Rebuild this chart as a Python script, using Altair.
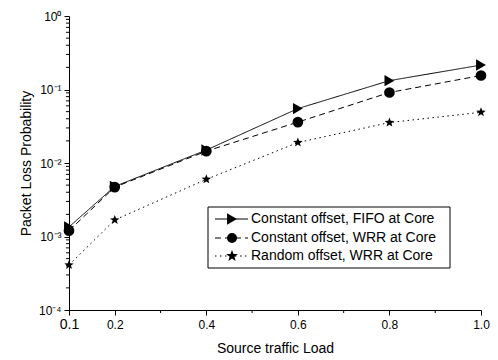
import math
import altair as alt
import pandas as pd

# ---- data ----
loads = [0.1, 0.2, 0.4, 0.6, 0.8, 1.0]
series_names = [
    "Constant offset, FIFO at Core",
    "Constant offset, WRR at Core",
    "Random offset, WRR at Core",
]
fifo = [1.35e-3, 4.8e-3, 1.5e-2, 5.5e-2, 0.132, 0.215]
wrr = [1.2e-3, 4.7e-3, 1.45e-2, 3.6e-2, 0.091, 0.155]
rnd = [4.1e-4, 1.68e-3, 6.0e-3, 1.9e-2, 3.55e-2, 0.049]

x_labelled = [0.1, 0.2, 0.4, 0.6, 0.8, 1.0]
x_minor = [0.3, 0.5, 0.7, 0.9]
y_label_values = [1, 0.1, 0.01, 0.001, 0.0001]
y_label_texts = ["10\u2070", "10\u207b\u00b9", "10\u207b\u00b2", "10\u207b\u00b3", "10\u207b\u2074"]
y_minor = [float(f"{k}e{e}") for e in range(-4, 0) for k in range(2, 10)]

# ---- styles ----
FONT = "Liberation Sans"
W, H = 412, 294
pts = []
for i in range(10):
    r = 1.0 if i % 2 == 0 else 0.42
    a = -math.pi / 2 + i * math.pi / 5
    pts.append(f"{r*math.cos(a):.3f},{r*math.sin(a):.3f}")
star_path = "M" + "L".join(pts) + "Z"
shapes = ["triangle-right", "circle", star_path]
sizes = [130, 100, 150]
dashes = [[1, 0], [6, 4], [1.5, 3.5]]

rows = []
for name, vals in zip(series_names, [fifo, wrr, rnd]):
    for x, y in zip(loads, vals):
        rows.append({"load": x, "prob": y, "series": name})
df = pd.DataFrame(rows)

x_scale = alt.Scale(domain=[0.1, 1.0], nice=False, zero=False)
y_scale = alt.Scale(type="log", domain=[1e-4, 1], nice=False)

x_enc = alt.X(
    "load:Q",
    scale=x_scale,
    axis=alt.Axis(
        title="Source traffic Load",
        values=x_labelled,
        format=".1f",
        tickSize=5,
        labelFontSize={"condition": {"test": "datum.value == 0.1", "value": 14}, "value": 12},
        labelBaseline="alphabetic",
        labelPadding=13,
        labelFlush=False,
        labelOverlap=False,
        grid=False,
        titleFontSize=14,
        titleFontWeight="normal",
        titleBaseline="top",
        titleY=31,
    ),
)
y_enc = alt.Y(
    "prob:Q",
    scale=y_scale,
    axis=alt.Axis(
        title="Packet Loss Probability",
        values=y_label_values,
        labelExpr=" : ".join(
            f"datum.value == {v} ? '{t}'" for v, t in zip(y_label_values, y_label_texts)
        ) + " : ''",
        tickSize=5,
        labelFontSize=12,
        labelPadding=3,
        labelOverlap=False,
        grid=False,
        titleFontSize=14,
        titleFontWeight="normal",
        titleX=-43,
        titleY=H / 2,
        titleBaseline="middle",
        titleAlign="center",
    ),
)

base = alt.Chart(df)
lines = base.mark_line(color="black", strokeWidth=1).encode(
    x=x_enc,
    y=y_enc,
    detail="series:N",
    strokeDash=alt.StrokeDash("series:N", scale=alt.Scale(domain=series_names, range=dashes), legend=None),
)
points = base.mark_point(filled=True, color="black", opacity=1).encode(
    x=alt.X("load:Q"),
    y=alt.Y("prob:Q"),
    shape=alt.Shape("series:N", scale=alt.Scale(domain=series_names, range=shapes), legend=None),
    size=alt.Size("series:N", scale=alt.Scale(domain=series_names, range=sizes), legend=None),
)

# minor ticks, positioned by the shared scales
x_minor_ticks = alt.Chart(pd.DataFrame({"load": x_minor})).mark_rule(color="black", strokeWidth=1).encode(
    x=alt.X("load:Q"), y=alt.value(H), y2=alt.value(H + 3)
)
y_minor_ticks = alt.Chart(pd.DataFrame({"prob": y_minor})).mark_rule(color="black", strokeWidth=1).encode(
    y=alt.Y("prob:Q"), x=alt.value(-3), x2=alt.value(0)
)

# ---- hand-built legend (plot-area pixel coordinates) ----
box = alt.Chart(pd.DataFrame({"a": [0]})).mark_rect(
    fill="white", stroke="black", strokeWidth=1
).encode(x=alt.value(139), x2=alt.value(381), y=alt.value(191), y2=alt.value(252))

legend_layers = [box]
row_y = [203, 222, 240]
for i, name in enumerate(series_names):
    d = pd.DataFrame({"series": [name]})
    c = alt.Chart(d)
    legend_layers.append(
        c.mark_rule(color="black", strokeWidth=1, strokeDash=dashes[i]).encode(
            x=alt.value(146), x2=alt.value(179), y=alt.value(row_y[i])
        )
    )
    legend_layers.append(
        c.mark_point(filled=True, color="black", opacity=1, shape=shapes[i], size=sizes[i]).encode(
            x=alt.value(163), y=alt.value(row_y[i])
        )
    )
    legend_layers.append(
        c.mark_text(align="left", baseline="middle", font=FONT, fontSize=14, color="black").encode(
            x=alt.value(182), y=alt.value(row_y[i]), text="series:N"
        )
    )

chart = alt.layer(lines, points, x_minor_ticks, y_minor_ticks, *legend_layers).properties(
    width=W,
    height=H,
    autosize=alt.AutoSizeParams(type="none"),
    padding={"left": 61, "top": 8, "right": 9, "bottom": 48},
).configure_view(stroke=None).configure_axis(
    domainColor="black",
    tickColor="black",
    labelColor="black",
    titleColor="black",
    labelFont=FONT,
    titleFont=FONT,
    domainWidth=1,
    tickWidth=1,
)

chart.save("out.html", embed_options={"renderer": "svg", "actions": False})
